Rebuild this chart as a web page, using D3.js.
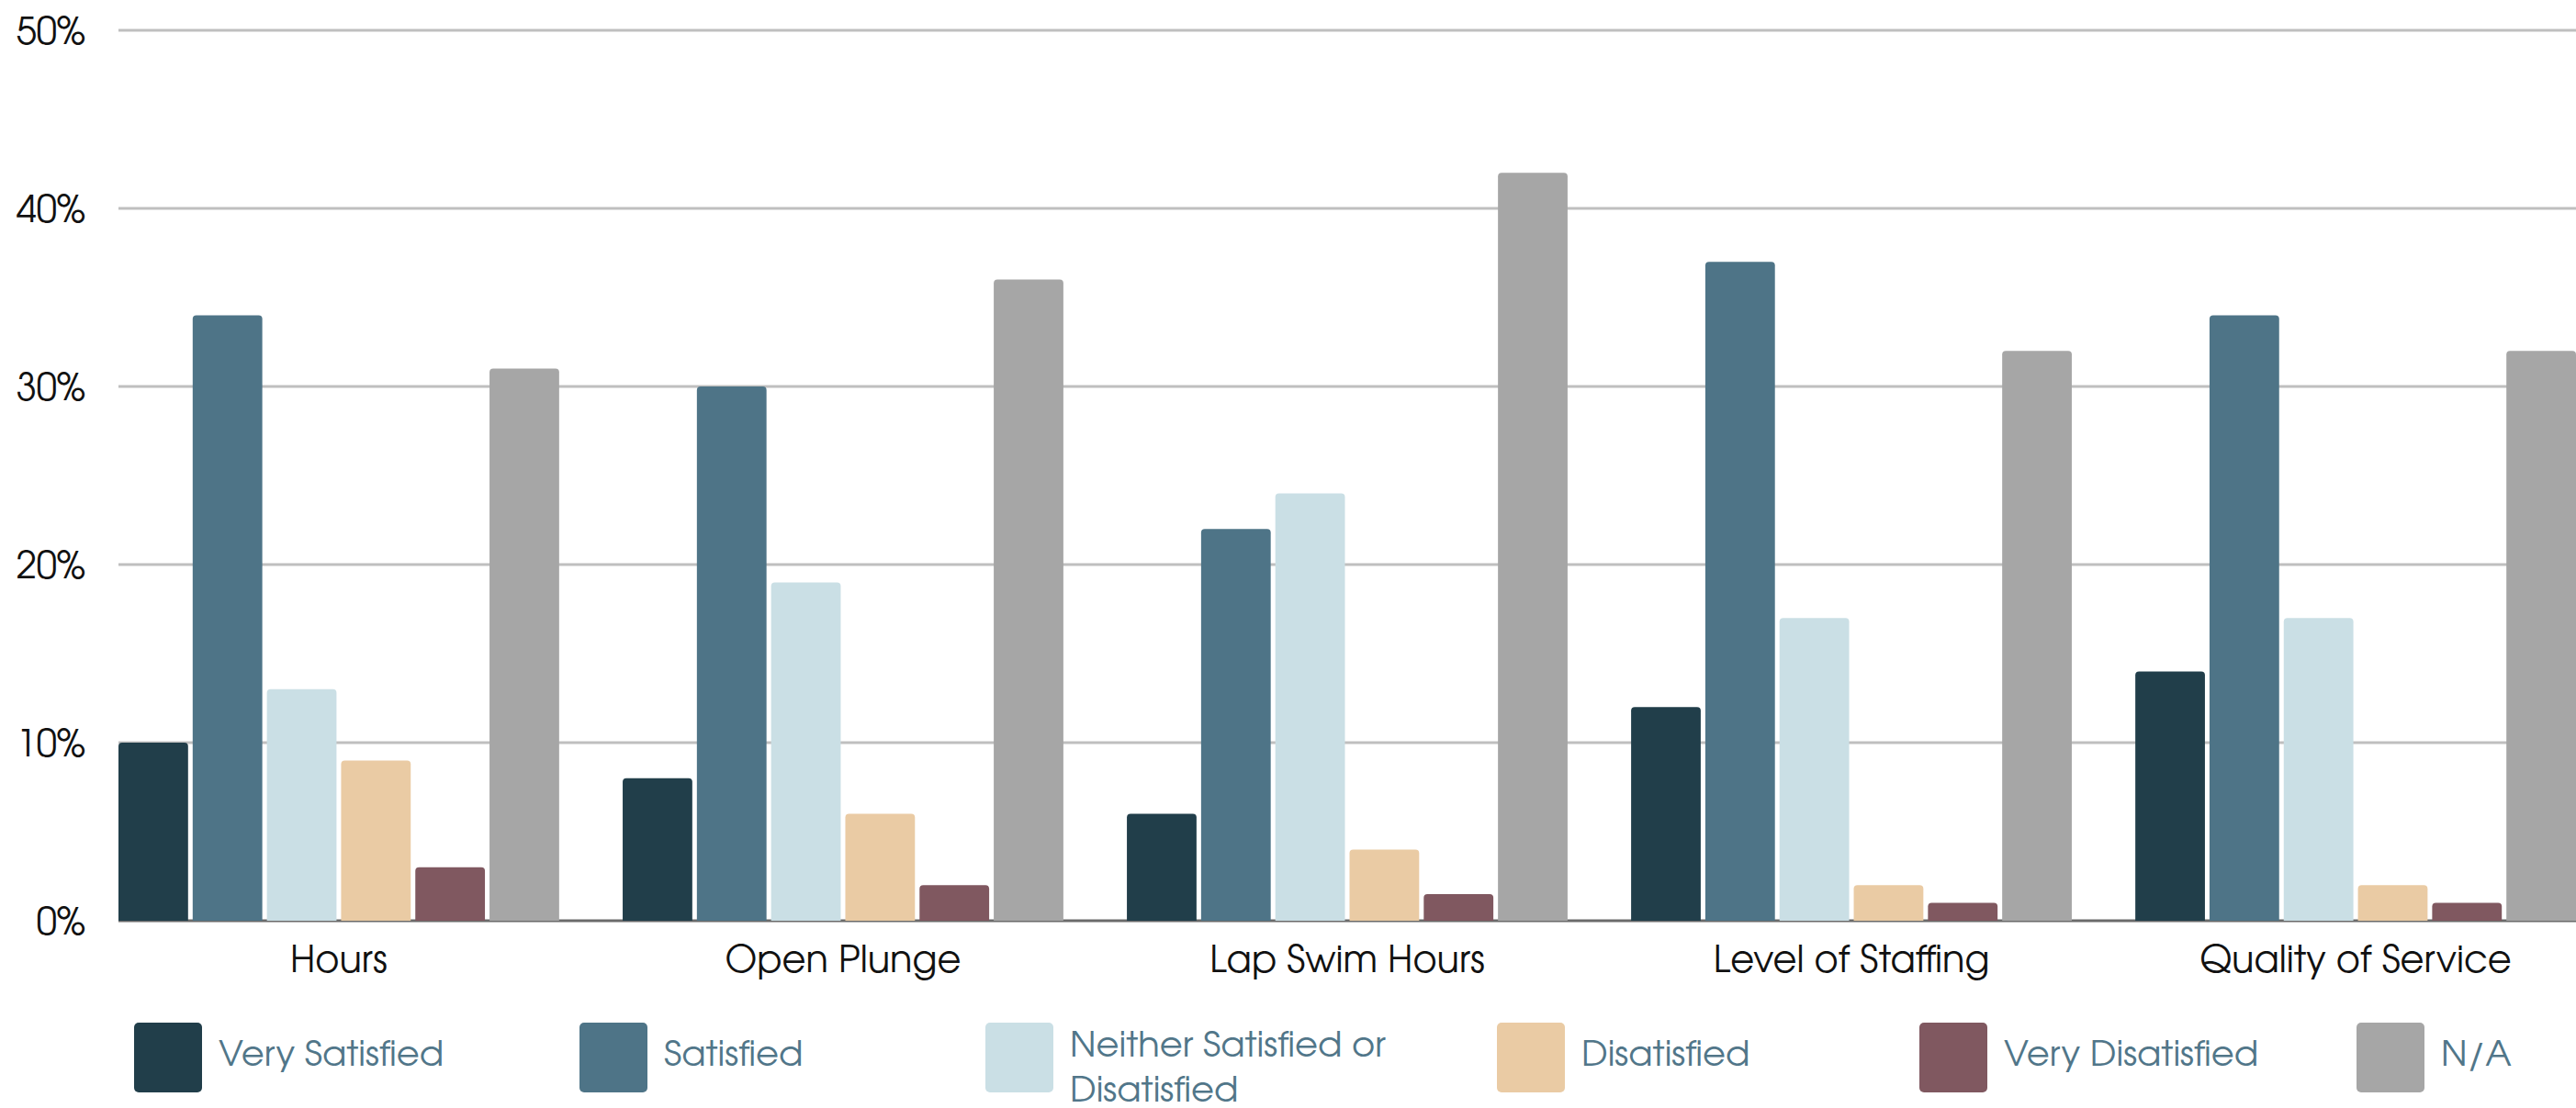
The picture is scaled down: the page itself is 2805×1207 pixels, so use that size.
<!DOCTYPE html>
<html>
<head>
<meta charset="utf-8">
<script src="https://cdn.jsdelivr.net/npm/d3@7"></script>
<style>
  html, body { margin: 0; padding: 0; background: #ffffff; }
  svg { display: block; }
  text { font-family: 'Century Gothic', 'URW Gothic', 'TeX Gyre Adventor', Lato, sans-serif; }
</style>
</head>
<body>
<svg id="chart" width="2805" height="1207"></svg>
<script>
// Survey categories along the x axis
const categories = ["Hours", "Open Plunge", "Lap Swim Hours", "Level of Staffing", "Quality of Service"];

// Response series (percent of respondents), one value per category
const seriesNames = ["Very Satisfied", "Satisfied", "Neither Satisfied or Disatisfied", "Disatisfied", "Very Disatisfied", "N/A"];
const verySatisfied   = [10, 8, 6, 12, 14];
const satisfied       = [34, 30, 22, 37, 34];
const neither         = [13, 19, 24, 17, 17];
const disatisfied     = [9, 6, 4, 2, 2];
const veryDisatisfied = [3, 2, 1.5, 1, 1];
const notApplicable   = [31, 36, 42, 32, 32];

// Y axis ticks (percent)
const yTicks = [0, 10, 20, 30, 40, 50];
const yTickLabels = ["0%", "10%", "20%", "30%", "40%", "50%"];

const seriesValues = [verySatisfied, satisfied, neither, disatisfied, veryDisatisfied, notApplicable];
const colors = ["#213e4a", "#4e7487", "#cadfe5", "#eacba4", "#805860", "#a6a6a6"];

const FONT = "'Century Gothic', 'URW Gothic', 'TeX Gyre Adventor', Lato, sans-serif";
const svg = d3.select("#chart");
const W = 2805, H = 1207;
const plot = { left: 129, right: 2805, top: 33, bottom: 1003 };

const x0 = d3.scaleBand().domain(categories).range([plot.left, plot.right]).paddingInner(0.126).paddingOuter(0);
const x1 = d3.scaleBand().domain(seriesNames).range([0, x0.bandwidth()]).paddingInner(0.062);
const y = d3.scaleLinear().domain([0, 50]).range([plot.bottom, plot.top]);
const color = d3.scaleOrdinal().domain(seriesNames).range(colors);

// Horizontal gridlines
svg.append("g").selectAll("line").data(yTicks.filter(t => t > 0)).join("line")
  .attr("x1", plot.left).attr("x2", W)
  .attr("y1", d => y(d)).attr("y2", d => y(d))
  .attr("stroke", "#bfbfbf").attr("stroke-width", 3);

// Baseline
svg.append("line")
  .attr("x1", plot.left).attr("x2", W)
  .attr("y1", y(0)).attr("y2", y(0))
  .attr("stroke", "#6b6b6b").attr("stroke-width", 3);

// Y axis labels
const yAxis = d3.axisLeft(y).tickValues(yTicks).tickFormat((d, i) => yTickLabels[i]).tickSize(0).tickPadding(0);
const yg = svg.append("g").attr("transform", `translate(93,0)`).call(yAxis);
yg.select(".domain").remove();
yg.selectAll("text").attr("font-size", 40).attr("fill", "#111").attr("dy", "0.35em")
  .style("font-family", FONT);

// Bars with slightly rounded top corners
function topRoundedRect(x, yTop, w, h, r) {
  r = Math.min(r, h, w / 2);
  return `M${x},${yTop + h}V${yTop + r}Q${x},${yTop} ${x + r},${yTop}H${x + w - r}Q${x + w},${yTop} ${x + w},${yTop + r}V${yTop + h}Z`;
}

const rows = [];
categories.forEach((c, ci) => {
  seriesNames.forEach((s, si) => rows.push({ category: c, series: s, value: seriesValues[si][ci] }));
});

svg.append("g").selectAll("path").data(rows).join("path")
  .attr("d", d => {
    const bx = x0(d.category) + x1(d.series);
    const by = y(d.value);
    return topRoundedRect(bx, by, x1.bandwidth(), y(0) - by, 4);
  })
  .attr("fill", d => color(d.series));

// X axis category labels
const xAxis = d3.axisBottom(x0).tickSize(0).tickPadding(0);
const xg = svg.append("g").attr("transform", `translate(0,${plot.bottom})`).call(xAxis);
xg.select(".domain").remove();
xg.selectAll("text").attr("font-size", 40).attr("fill", "#111").attr("y", 56).attr("dy", 0)
  .style("font-family", FONT);

// Legend
const legendBoxX = [146, 631, 1073, 1630, 2090, 2566];
const legendFont = 38.5;
const box = { w: 74, h: 76, top: 1114 };
const textGap = 18;
const legend = svg.append("g");
seriesNames.forEach((s, i) => {
  const g = legend.append("g").attr("transform", `translate(${legendBoxX[i]},0)`);
  g.append("rect").attr("x", 0).attr("y", box.top)
    .attr("width", box.w).attr("height", box.h).attr("rx", 5)
    .attr("fill", color(s));
  const t = g.append("text").attr("font-size", legendFont).attr("fill", "#517689");
  // wrap long names onto two lines
  const words = s.split(" ");
  const maxW = 370;
  const lines = [[]];
  const probe = svg.append("text").attr("font-size", legendFont);
  words.forEach(w => {
    const cur = lines[lines.length - 1];
    probe.text(cur.concat([w]).join(" "));
    if (cur.length && probe.node().getComputedTextLength() > maxW) lines.push([w]);
    else cur.push(w);
  });
  probe.remove();
  if (lines.length === 1) {
    t.append("tspan").attr("x", box.w + textGap).attr("y", 1161).text(lines[0].join(" "));
  } else {
    lines.forEach((ln, li) => {
      t.append("tspan").attr("x", box.w + textGap).attr("y", 1151 + li * 49).text(ln.join(" "));
    });
  }
});
</script>
</body>
</html>
